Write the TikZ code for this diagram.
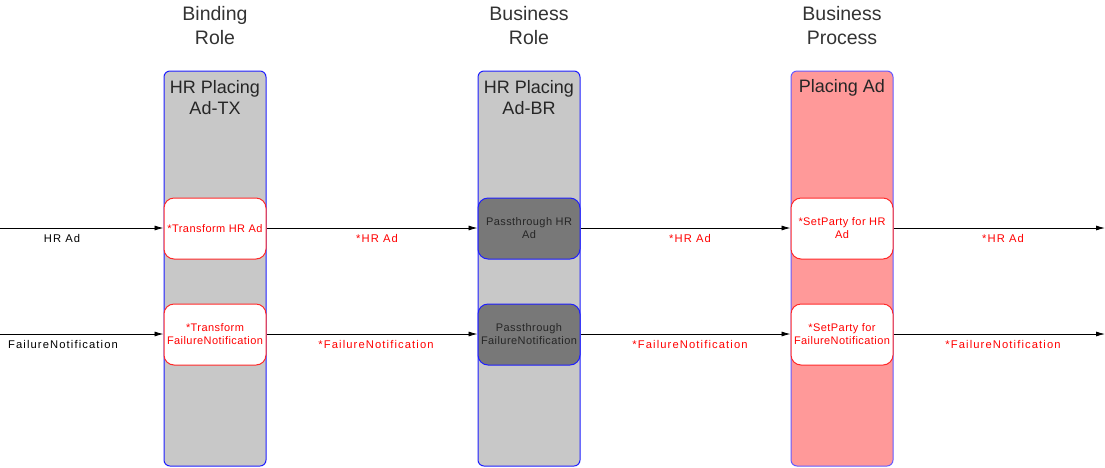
\documentclass[tikz,border=0pt]{standalone}
\usepackage{fontspec}
\setmainfont{Liberation Sans}
\newfontfamily\edgefont[LetterSpace=10]{Liberation Sans}
\newfontfamily\boxfont[LetterSpace=4]{Liberation Sans}
\usetikzlibrary{arrows.meta}
\definecolor{lanegray}{RGB}{200,200,200}
\definecolor{lanepink}{RGB}{255,153,153}
\definecolor{laneblue}{RGB}{30,30,255}
\definecolor{pinkborder}{RGB}{100,90,255}
\definecolor{darkbox}{RGB}{120,120,120}
\definecolor{txtred}{RGB}{255,0,0}
\definecolor{boxred}{RGB}{255,40,40}
\tikzset{
  lane/.style={draw=laneblue, line width=1pt, rounded corners=6pt, fill=lanegray, minimum width=102pt, minimum height=395pt, inner sep=0pt},
  lanetitle/.style={font=\fontsize{18}{21}\selectfont, text=black!85, align=center},
  coltitle/.style={font=\fontsize{19.5}{24}\selectfont, text=black!80, align=center},
  whitebox/.style={draw=boxred, line width=1pt, rounded corners=10pt, fill=white, minimum width=102pt, minimum height=61pt, inner sep=0pt, align=center, text=txtred, font=\boxfont\fontsize{11}{13}\selectfont},
  darkbox/.style={whitebox, draw=laneblue, fill=darkbox, text=black!85},
  flow/.style={draw=black, line width=0.8pt, -{Latex[length=9pt,width=5pt]}},
  elabel/.style={font=\edgefont\fontsize{11.2}{13}\selectfont, text=txtred},
  blabel/.style={elabel, text=black}
}
\begin{document}
\begin{tikzpicture}[x=1pt,y=-1pt]
\useasboundingbox (0,0) rectangle (1105,467);
% column titles
\node[coltitle] (t1) at (215,26) {Binding\\Role};
\node[coltitle] (t2) at (529,26) {Business\\Role};
\node[coltitle] (t3) at (842,26) {Business\\Process};
% lanes
\node[lane] (l1) at (215,268.5) {};
\node[lane] (l2) at (529,268.5) {};
\node[lane, fill=lanepink, draw=pinkborder] (l3) at (842,268.5) {};
\node[lanetitle] (lt1) at (215,98) {HR Placing\\Ad-TX};
\node[lanetitle] (lt2) at (529,98) {HR Placing\\Ad-BR};
\node[lanetitle] (lt3) at (842,88) {Placing Ad};
% boxes
\node[whitebox] (a1) at (215,228.5) {*Transform HR Ad};
\node[whitebox] (a2) at (215,334.5) {*Transform\\FailureNotification};
\node[darkbox] (b1) at (529,228.5) {Passthrough HR\\Ad};
\node[darkbox] (b2) at (529,334.5) {Passthrough\\FailureNotification};
\node[whitebox] (c1) at (842,228.5) {*SetParty for HR\\Ad};
\node[whitebox] (c2) at (842,334.5) {*SetParty for\\FailureNotification};
% free ends
\coordinate (s1) at (0,228);
\coordinate (s2) at (0,334);
\coordinate (e1) at (1105,228);
\coordinate (e2) at (1105,334);
% flows
\draw[flow] (s1) -- (a1.west |- s1);
\draw[flow] (a1.east |- s1) -- (b1.west |- s1);
\draw[flow] (b1.east |- s1) -- (c1.west |- s1);
\draw[flow] (c1.east |- s1) -- (e1);
\draw[flow] (s2) -- (a2.west |- s2);
\draw[flow] (a2.east |- s2) -- (b2.west |- s2);
\draw[flow] (b2.east |- s2) -- (c2.west |- s2);
\draw[flow] (c2.east |- s2) -- (e2);
% labels
\node[blabel] (h0) at (62,238) {HR Ad};
\node[elabel] (h1) at (377,238) {*HR Ad};
\node[elabel] (h2) at (690,238) {*HR Ad};
\node[elabel] (h3) at (1003,238) {*HR Ad};
\node[blabel] (f0) at (63,344) {FailureNotification};
\node[elabel] (f1) at (376,344) {*FailureNotification};
\node[elabel] (f2) at (690,344) {*FailureNotification};
\node[elabel] (f3) at (1003,344) {*FailureNotification};
\end{tikzpicture}
\end{document}
